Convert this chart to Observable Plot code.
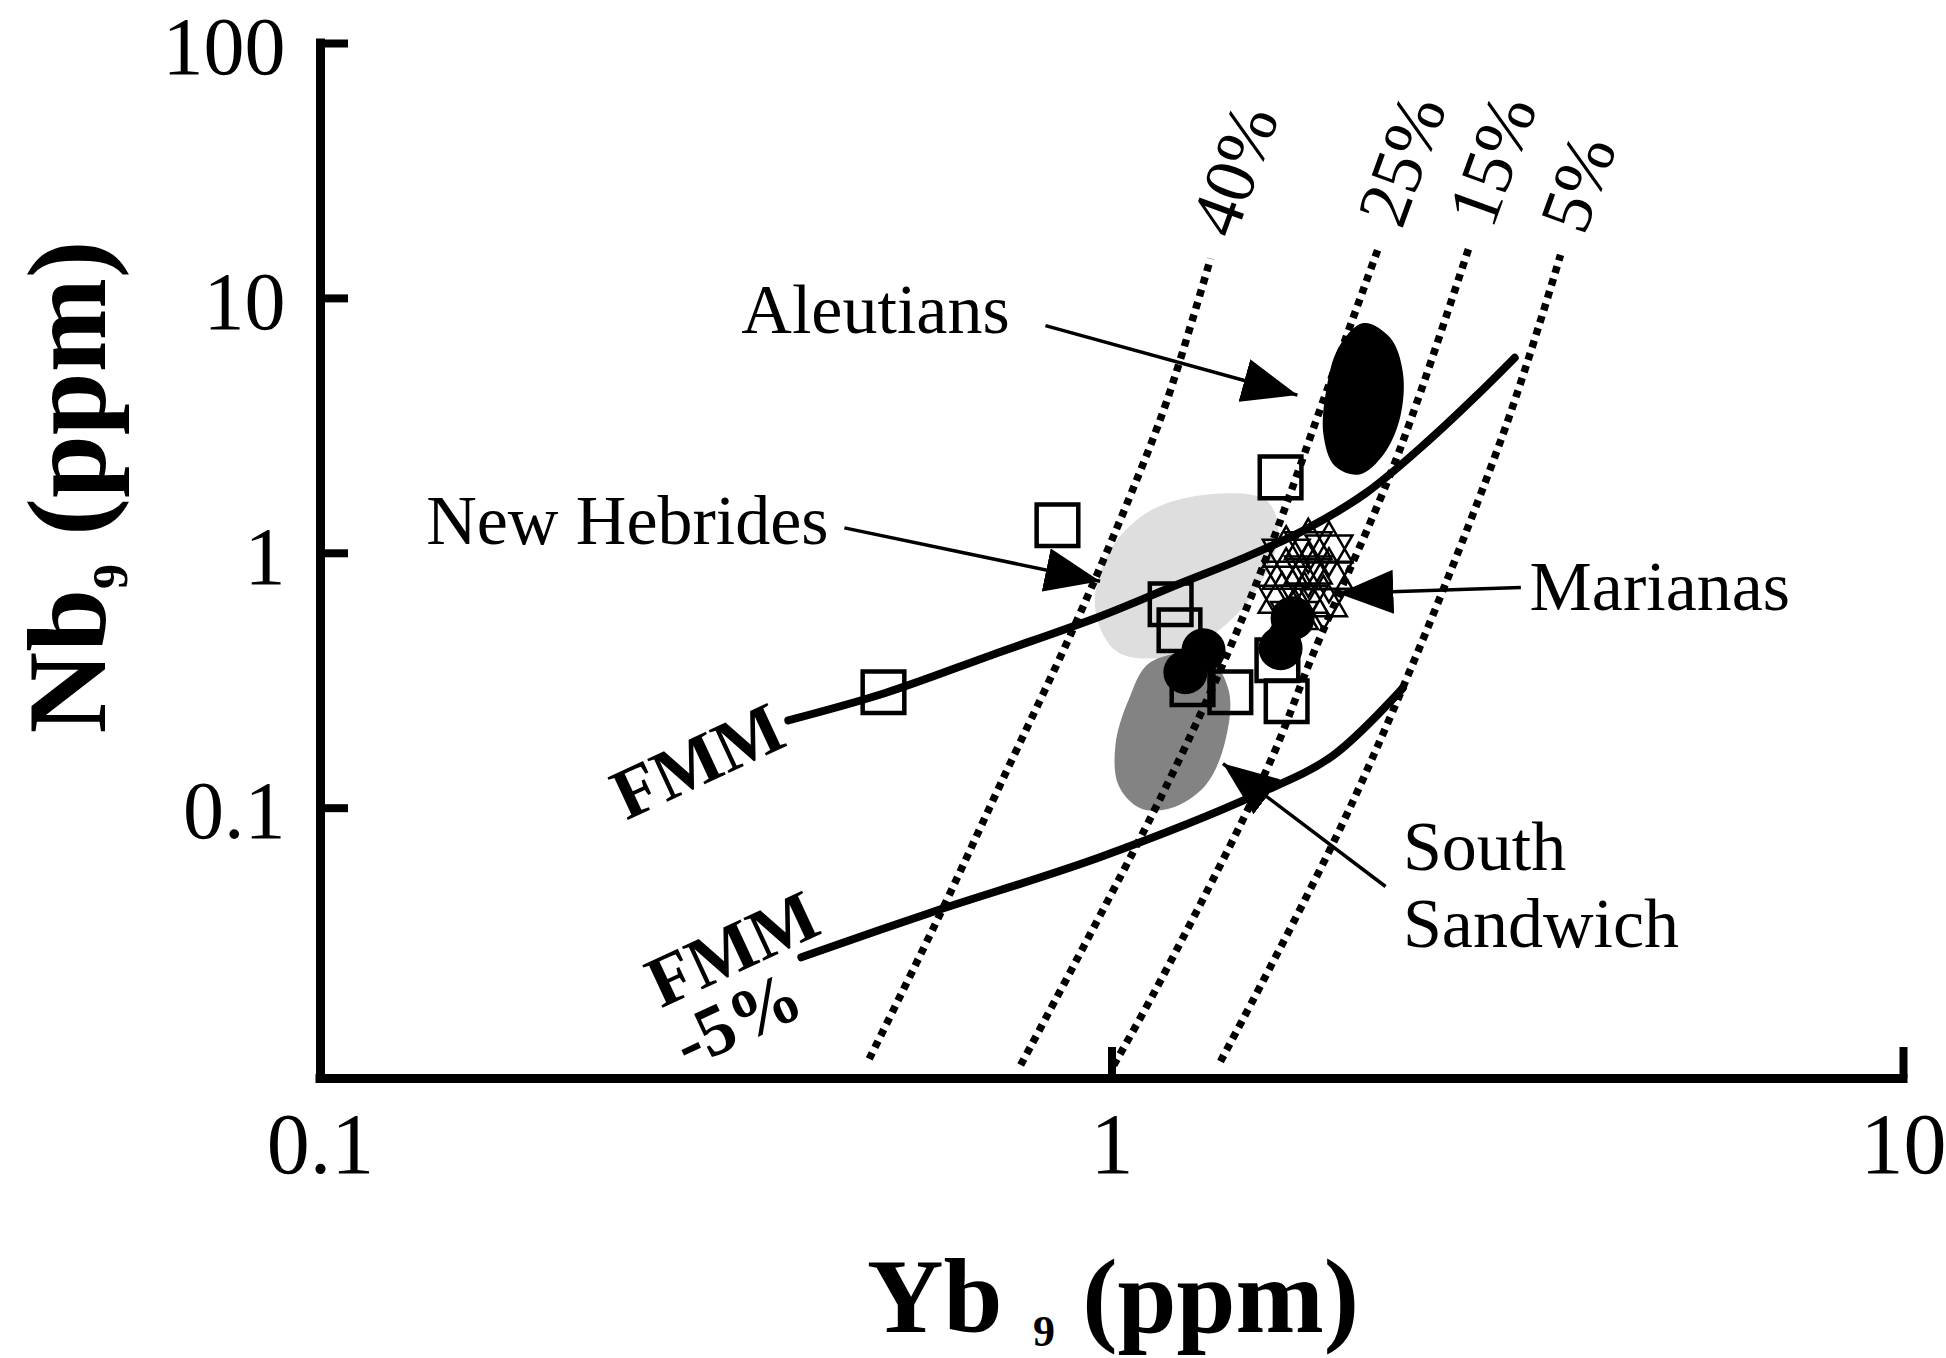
<!DOCTYPE html>
<html>
<head>
<meta charset="utf-8">
<script src="https://cdn.jsdelivr.net/npm/d3@7"></script>
<script src="https://cdn.jsdelivr.net/npm/@observablehq/plot@0.6"></script>
<style>
  html, body { margin: 0; padding: 0; background: #fff; }
</style>
</head>
<body>
<div id="chart"></div>
<script>
// ---- Data: Yb9 (ppm) vs Nb9 (ppm) ----

// Axis ticks
const xTicks = [0.1, 1, 10];
const xTickLabels = ["0.1", "1", "10"];
const yTicks = [100, 10, 1, 0.1];
const yTickLabels = ["100", "10", "1", "0.1"];
const yFloor = 0.0087; // lower end of the Nb9 axis

// Fertile MORB mantle melting trend (FMM)
const fmmYb = [0.390, 0.517, 0.708, 0.969, 1.217, 1.458, 1.747, 2.092, 2.506, 2.894, 3.227];
const fmmNb = [0.221, 0.283, 0.401, 0.568, 0.760, 0.951, 1.230, 1.722, 2.75, 4.18, 5.85];

// FMM depleted by 5% melt extraction
const fmm5Yb = [0.405, 0.591, 0.969, 1.522, 1.897, 2.331];
const fmm5Nb = [0.026, 0.039, 0.0645, 0.113, 0.160, 0.296];

// Melting curves (degree of partial melting)
const melt40Yb = [0.4935, 0.6131, 0.7236, 0.8952, 1.053, 1.174, 1.332];
const melt40Nb = [0.01038, 0.04122, 0.1250, 0.5133, 1.665, 3.993, 14.33];
const melt25Yb = [0.7667, 1.153, 1.411, 1.619, 1.850, 2.169];
const melt25Nb = [0.00982, 0.1105, 0.4290, 1.258, 3.993, 15.67];
const melt15Yb = [1.005, 1.136, 1.573, 1.797, 2.224, 2.434, 2.822];
const melt15Nb = [0.00982, 0.01945, 0.1446, 0.4057, 1.884, 3.993, 15.67];
const melt5Yb = [1.371, 2.017, 3.101, 3.687];
const melt5Nb = [0.01015, 0.1069, 2.789, 14.82];
const meltLabels = ["40%", "25%", "15%", "5%"];

// Arc fields (outlines)
const newHebridesYb = [0.952, 0.9906, 1.112, 1.332, 1.567, 1.624, 1.539, 1.381, 1.195, 1.016];
const newHebridesNb = [0.6074, 1.006, 1.456, 1.703, 1.610, 1.190, 0.760, 0.5133, 0.3967, 0.4102];
const southSandwichYb = [1.118, 1.313, 1.404, 1.391, 1.313, 1.186, 1.086, 1.019, 1.010, 1.049];
const southSandwichNb = [0.3737, 0.398, 0.2902, 0.1848, 0.1231, 0.1, 0.1, 0.1231, 0.1767, 0.2652];
const aleutiansYb = [2.077, 2.248, 2.331, 2.314, 2.208, 2.054, 1.911, 1.850, 1.864, 1.932];
const aleutiansNb = [8.00, 6.99, 5.11, 3.45, 2.465, 2.038, 2.204, 2.917, 4.318, 6.39];

// Marianas samples (star symbols)
const marianasYb = [1.66, 1.77, 1.88, 1.66, 1.77, 1.88, 1.64, 1.75, 1.85, 1.70];
const marianasNb = [1.00, 1.07, 1.04, 0.82, 0.86, 0.82, 0.66, 0.66, 0.64, 0.57];

// Open squares and filled circles
const squareYb = [0.5144, 0.8533, 1.633, 1.186, 1.217, 1.264, 1.411, 1.618, 1.662];
const squareNb = [0.2850, 1.288, 1.986, 0.631, 0.4989, 0.3064, 0.2850, 0.3805, 0.2628];
const circleYb = [1.305, 1.238, 1.691, 1.633];
const circleNb = [0.4164, 0.3413, 0.5559, 0.4241];

// Annotations
const noteText = ["Aleutians", "New Hebrides", "Marianas", "South", "Sandwich"];
const noteYb = [0.3402, 0.1360, 3.37, 2.331, 2.331];
const noteNb = [8.95, 1.331, 0.7348, 0.0698, 0.03484];
const arrowFromYb = [0.824, 0.4591, 3.285, 2.216];
const arrowFromNb = [7.82, 1.258, 0.7348, 0.0493];
const arrowToYb = [1.715, 0.9659, 1.932, 1.381];
const arrowToNb = [4.174, 0.7771, 0.6948, 0.1496];
const curveNames = ["FMM", "FMM", "-5%"];
const curveNameYb = [0.2998, 0.3317, 0.3365];
const curveNameNb = [0.152, 0.02785, 0.0147];

// ---- Build tables ----
const zip = (xs, ys) => xs.map((x, i) => ({yb: x, nb: ys[i]}));
const fmm = zip(fmmYb, fmmNb);
const fmm5 = zip(fmm5Yb, fmm5Nb);
const meltCurves = [
  zip(melt40Yb, melt40Nb), zip(melt25Yb, melt25Nb),
  zip(melt15Yb, melt15Nb), zip(melt5Yb, melt5Nb)
];
const meltTops = meltCurves.map((c, i) => ({...c[c.length - 1], label: meltLabels[i]}));
const newHebrides = zip(newHebridesYb, newHebridesNb);
const southSandwich = zip(southSandwichYb, southSandwichNb);
const aleutians = zip(aleutiansYb, aleutiansNb);
const marianas = zip(marianasYb, marianasNb);
const squares = zip(squareYb, squareNb);
const circles = zip(circleYb, circleNb);
const notes = noteText.map((t, i) => ({text: t, yb: noteYb[i], nb: noteNb[i]}));
const arrows = arrowFromYb.map((x, i) => ({x1: x, y1: arrowFromNb[i], x2: arrowToYb[i], y2: arrowToNb[i]}));
const curveTags = curveNames.map((t, i) => ({text: t, yb: curveNameYb[i], nb: curveNameNb[i]}));

// Six-pointed star symbol (two overlapping triangles)
const hexagram = {
  draw(context, size) {
    const r = Math.sqrt(size / Math.PI);
    for (const a0 of [-Math.PI / 2, Math.PI / 2]) {
      for (let k = 0; k < 3; ++k) {
        const a = a0 + k * 2 * Math.PI / 3;
        const px = r * Math.cos(a), py = r * Math.sin(a);
        if (k === 0) context.moveTo(px, py); else context.lineTo(px, py);
      }
      context.closePath();
    }
  }
};

const serif = "Liberation Serif, Times New Roman, serif";
const frameH = 1358 - 43 - 280;
const frameW = 1946 - 320 - 43;

const chart = Plot.plot({
  width: 1946,
  height: 1358,
  marginLeft: 320,
  marginRight: 43,
  marginTop: 43,
  marginBottom: 280,
  x: {type: "log", domain: [0.1, 10], axis: null},
  y: {type: "log", domain: [yFloor, 100], axis: null},
  style: {fontFamily: serif, background: "#fff", overflow: "visible"},
  marks: [
    // Arc fields
    Plot.line(newHebrides, {x: "yb", y: "nb", curve: "catmull-rom-closed", fill: "#dedede", stroke: "none"}),
    Plot.line(southSandwich, {x: "yb", y: "nb", curve: "catmull-rom-closed", fill: "#838383", stroke: "none"}),
    Plot.line(aleutians, {x: "yb", y: "nb", curve: "catmull-rom-closed", fill: "#000", stroke: "none"}),

    // Melting curves
    ...meltCurves.map(c => Plot.line(c, {x: "yb", y: "nb", curve: "catmull-rom", stroke: "#000", strokeWidth: 7.5, strokeDasharray: "7 6", strokeLinecap: "butt"})),

    // FMM trends
    Plot.line(fmm, {x: "yb", y: "nb", curve: "catmull-rom", stroke: "#000", strokeWidth: 8}),
    Plot.line(fmm5, {x: "yb", y: "nb", curve: "catmull-rom", stroke: "#000", strokeWidth: 8}),

    // Samples
    Plot.dot(marianas, {x: "yb", y: "nb", symbol: hexagram, r: 27, stroke: "#000", strokeWidth: 2.5, fill: "none"}),
    Plot.dot(squares, {x: "yb", y: "nb", symbol: "square", r: 23.5, stroke: "#000", strokeWidth: 4.5, fill: "none"}),
    Plot.dot(circles, {x: "yb", y: "nb", r: 22, fill: "#000", stroke: "none"}),

    // Annotation arrows (heads added below)
    Plot.link(arrows, {x1: "x1", y1: "y1", x2: "x2", y2: "y2", stroke: "#000", strokeWidth: 3.5}),

    // Axes
    Plot.ruleY([yFloor], {stroke: "#000", strokeWidth: 9, strokeLinecap: "square"}),
    Plot.ruleX([0.1], {stroke: "#000", strokeWidth: 9, strokeLinecap: "square"}),
    Plot.ruleX(xTicks.slice(1), {x: d => d, stroke: "#000", strokeWidth: 8, insetTop: frameH - 31}),
    Plot.ruleY(yTicks, {y: d => d, stroke: "#000", strokeWidth: 8, insetRight: frameW - 28}),
    Plot.text(xTicks, {x: d => d, frameAnchor: "bottom", dy: 67, text: (d, i) => xTickLabels[i], fontSize: 86, lineAnchor: "middle", fill: "#000"}),
    Plot.text(yTicks, {y: d => d, frameAnchor: "left", dx: -35, dy: 4, text: (d, i) => yTickLabels[i], fontSize: 82, textAnchor: "end", lineAnchor: "middle", fill: "#000"}),

    // Labels
    Plot.text(meltTops, {x: "yb", y: "nb", text: "label", rotate: -70, textAnchor: "start", lineAnchor: "middle", dx: 2, dy: -26, fontSize: 72, fill: "#000"}),
    Plot.text(notes, {x: "yb", y: "nb", text: "text", textAnchor: "start", lineAnchor: "middle", fontSize: 70, fill: "#000"}),
    Plot.text(curveTags, {x: "yb", y: "nb", text: "text", rotate: -25, fontSize: 72, fontWeight: "bold", fill: "#000"})
  ]
});

// Filled arrowheads on the annotation links
const svg = d3.select(chart);
const defs = svg.insert("defs", ":first-child");
defs.append("marker")
  .attr("id", "arrowhead")
  .attr("viewBox", "0 0 55 44")
  .attr("refX", 55).attr("refY", 22)
  .attr("markerWidth", 55).attr("markerHeight", 44)
  .attr("markerUnits", "userSpaceOnUse")
  .attr("orient", "auto")
  .append("path")
  .attr("d", "M0,0L55,22L0,44Z")
  .attr("fill", "#000");
svg.selectAll('g[aria-label="link"] path').attr("marker-end", "url(#arrowhead)");

// Axis titles with subscripts
const titleFont = (sel, size) => sel
  .attr("font-family", serif)
  .attr("font-weight", "bold")
  .attr("font-size", size)
  .attr("fill", "#000");

const yTitle = svg.append("text")
  .call(titleFont, 113)
  .attr("transform", "translate(105,487) rotate(-90)")
  .attr("text-anchor", "middle");
yTitle.append("tspan").text("Nb");
yTitle.append("tspan").attr("font-size", 50).attr("dy", 22).text("9");
yTitle.append("tspan").attr("dy", -22).text(" (ppm)");

svg.append("text").call(titleFont, 106).attr("text-anchor", "start").attr("x", 867).attr("y", 1332).text("Yb");
svg.append("text").call(titleFont, 44).attr("text-anchor", "start").attr("x", 1033).attr("y", 1346).text("9");
svg.append("text").call(titleFont, 106).attr("text-anchor", "end").attr("x", 1359).attr("y", 1332).text("(ppm)");

document.getElementById("chart").appendChild(chart);
</script>
</body>
</html>
